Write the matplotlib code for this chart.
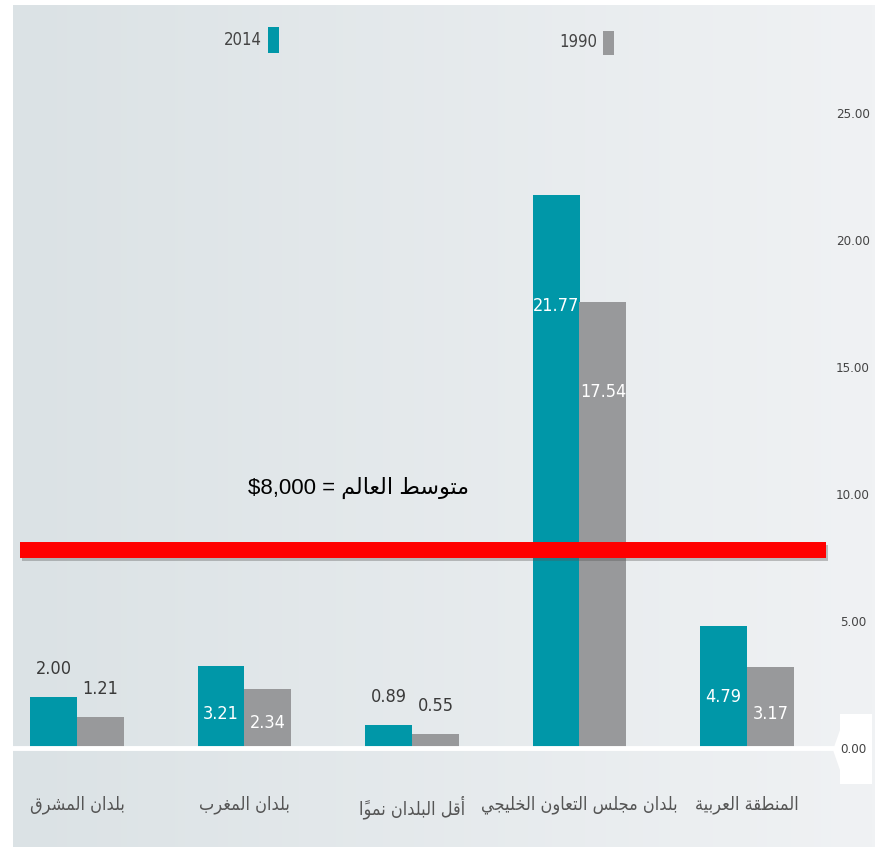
import numpy as np
import matplotlib
matplotlib.use("Agg")
import matplotlib.pyplot as plt
from matplotlib import font_manager as fm
from matplotlib.patches import Rectangle, Polygon
import matplotlib.patheffects as pe

# data
categories = ["بلدان المشرق", "بلدان المغرب", "أقل البلدان نمواً",
              "بلدان مجلس التعاون الخليجي", "المنطقة العربية"]
v2014 = [2.00, 3.21, 0.89, 21.77, 4.79]
v1990 = [1.21, 2.34, 0.55, 17.54, 3.17]
series_names = ["2014", "1990"]
world_avg = 7.8
world_label = "متوسط العالم"
world_value = "$8,000"
yticks = [0, 5, 10, 15, 20, 25]

# --- minimal arabic shaping (matplotlib has no complex text layout) ---
FORMS = {
    'ا': ('\uFE8D', '\uFE8E', None, None),
    'أ': ('\uFE83', '\uFE84', None, None),
    'ب': ('\uFE8F', '\uFE90', '\uFE91', '\uFE92'),
    'ة': ('\uFE93', '\uFE94', None, None),
    'ت': ('\uFE95', '\uFE96', '\uFE97', '\uFE98'),
    'ج': ('\uFE9D', '\uFE9E', '\uFE9F', '\uFEA0'),
    'خ': ('\uFEA5', '\uFEA6', '\uFEA7', '\uFEA8'),
    'د': ('\uFEA9', '\uFEAA', None, None),
    'ر': ('\uFEAD', '\uFEAE', None, None),
    'س': ('\uFEB1', '\uFEB2', '\uFEB3', '\uFEB4'),
    'ش': ('\uFEB5', '\uFEB6', '\uFEB7', '\uFEB8'),
    'ط': ('\uFEC1', '\uFEC2', '\uFEC3', '\uFEC4'),
    'ع': ('\uFEC9', '\uFECA', '\uFECB', '\uFECC'),
    'غ': ('\uFECD', '\uFECE', '\uFECF', '\uFED0'),
    'ق': ('\uFED5', '\uFED6', '\uFED7', '\uFED8'),
    'ل': ('\uFEDD', '\uFEDE', '\uFEDF', '\uFEE0'),
    'م': ('\uFEE1', '\uFEE2', '\uFEE3', '\uFEE4'),
    'ن': ('\uFEE5', '\uFEE6', '\uFEE7', '\uFEE8'),
    'و': ('\uFEED', '\uFEEE', None, None),
    'ي': ('\uFEF1', '\uFEF2', '\uFEF3', '\uFEF4'),
}
MARKS = {'\u064B'}


def ar(text):
    ch = list(text)
    out = []
    for i, c in enumerate(ch):
        if c not in FORMS:
            out.append(c)
            continue
        j = i - 1
        while j >= 0 and ch[j] in MARKS:
            j -= 1
        k = i + 1
        while k < len(ch) and ch[k] in MARKS:
            k += 1
        prev = ch[j] if j >= 0 else None
        nxt = ch[k] if k < len(ch) else None
        jp = prev in FORMS and FORMS[prev][2] is not None
        jn = FORMS[c][2] is not None and nxt in FORMS
        iso, fin, ini, med = FORMS[c]
        out.append(med if (jp and jn) else fin if jp else ini if jn else iso)
    clusters = []
    for g in out:
        if g in MARKS and clusters:
            clusters[-1] += g
        else:
            clusters.append(g)
    return ''.join(reversed(clusters))


# fonts: try for something narrow
names = {f.name for f in fm.fontManager.ttflist}
dv_cond = any(f.name == 'DejaVu Sans' and 'condensed' in str(f.stretch)
              for f in fm.fontManager.ttflist)
stretch = 'condensed' if dv_cond else 'normal'
numfam = ['Liberation Sans Narrow', 'DejaVu Sans'] if 'Liberation Sans Narrow' in names else ['DejaVu Sans']

teal = '#0097a8'
grey = '#98999b'

W, H = 875, 847
fig = plt.figure(figsize=(W / 100, H / 100), dpi=100)
fig.patch.set_facecolor('white')

# background gradient
bg = fig.add_axes([13 / W, 0, 1 - 13 / W, 1 - 5 / H])
bg.set_axis_off()
c0 = np.array([219, 226, 229]) / 255
c1 = np.array([240, 242, 244]) / 255
t = np.linspace(0, 1, 256)[None, :, None]
grad = c0 + (c1 - c0) * t
grad = np.repeat(grad, 4, axis=0)
bg.imshow(grad, aspect='auto', extent=[0, 1, 0, 1])
bg.set_xlim(0, 1)
bg.set_ylim(0, 1)

# white box behind the 0.00 label
pts = [(833, 750), (840, 730), (840, 714), (872, 714), (872, 784), (840, 784), (840, 770)]
bg.add_patch(Polygon([(x / W, 1 - y / H) for x, y in pts], closed=True,
                     transform=fig.transFigure, facecolor='white', edgecolor='none',
                     zorder=2))

px0 = 77.0
step = 167.5
ax = fig.add_axes([13 / W, (H - 748) / H, (835 - 13) / W, (748 - 5) / H])
ax.patch.set_alpha(0)
ax.set_xlim((13 - px0) / step, (835 - px0) / step)
ax.set_ylim(0, 29.25)
x = np.arange(len(categories))
w = 0.28
ax.bar(x - w / 2, v2014, w, color=teal, zorder=3)
ax.bar(x + w / 2, v1990, w, color=grey, zorder=3)

for xi, a, b in zip(x, v2014, v1990):
    inside = a > 3
    for xx, v in ((xi - w / 2, a), (xi + w / 2, b)):
        lab = f"{v:.2f}"
        if inside:
            yy = v * 0.8 if v > 10 else v * 0.42
            ax.text(xx, yy, lab, ha='center', va='center', color='white',
                    fontsize=13, family=numfam, fontstretch=stretch, zorder=4)
        else:
            ax.annotate(lab, (xx, v), xytext=(0, 14), textcoords='offset points',
                        ha='center', va='bottom', color='#3a3a3a',
                        fontsize=13, family=numfam, fontstretch=stretch, zorder=4)

# zero line
ax.axhline(0, color='white', lw=3.5, zorder=5, clip_on=False)

# world average line
ax.axhline(world_avg, xmin=7 / 822, xmax=(826 - 13) / 822, color='#ff0000', lw=11.5,
           solid_capstyle='butt', zorder=6, clip_on=False,
           path_effects=[pe.SimpleLineShadow(offset=(1.5, -2.5), shadow_color='#555555', alpha=0.35),
                         pe.Normal()])
fig.text(248 / W, 1 - 488 / H, world_value + " = " + ar(world_label), ha='left', va='center',
         fontsize=16, family=['Liberation Sans', 'DejaVu Sans'], color='black')

# axes styling
for s in ax.spines.values():
    s.set_visible(False)
ax.set_xticks(x)
ax.set_xticklabels([ar(c) for c in categories], fontsize=13, color='#555555',
                   family=['DejaVu Sans'], fontstretch=stretch)
ax.tick_params(axis='x', length=0, pad=34)
ax.yaxis.tick_right()
ax.set_yticks(yticks)
ax.set_yticklabels([f"{v:.2f}" for v in yticks], fontsize=9.5, color='#444444',
                   family=numfam, fontstretch=stretch, ha='center')
ax.tick_params(axis='y', length=0, pad=13)

# legend
fig.text(262 / W, 1 - 40 / H, series_names[0], ha='right', va='center', fontsize=12,
         color='#444444', family=numfam, fontstretch=stretch)
fig.add_artist(Rectangle((268 / W, 1 - 53 / H), 11 / W, 26 / H, transform=fig.transFigure,
                         facecolor=teal, edgecolor='none'))
fig.text(597 / W, 1 - 42 / H, series_names[1], ha='right', va='center', fontsize=12,
         color='#444444', family=numfam, fontstretch=stretch)
fig.add_artist(Rectangle((603 / W, 1 - 55 / H), 11 / W, 24 / H, transform=fig.transFigure,
                         facecolor=grey, edgecolor='none'))

fig.savefig('out.png', dpi=100)
